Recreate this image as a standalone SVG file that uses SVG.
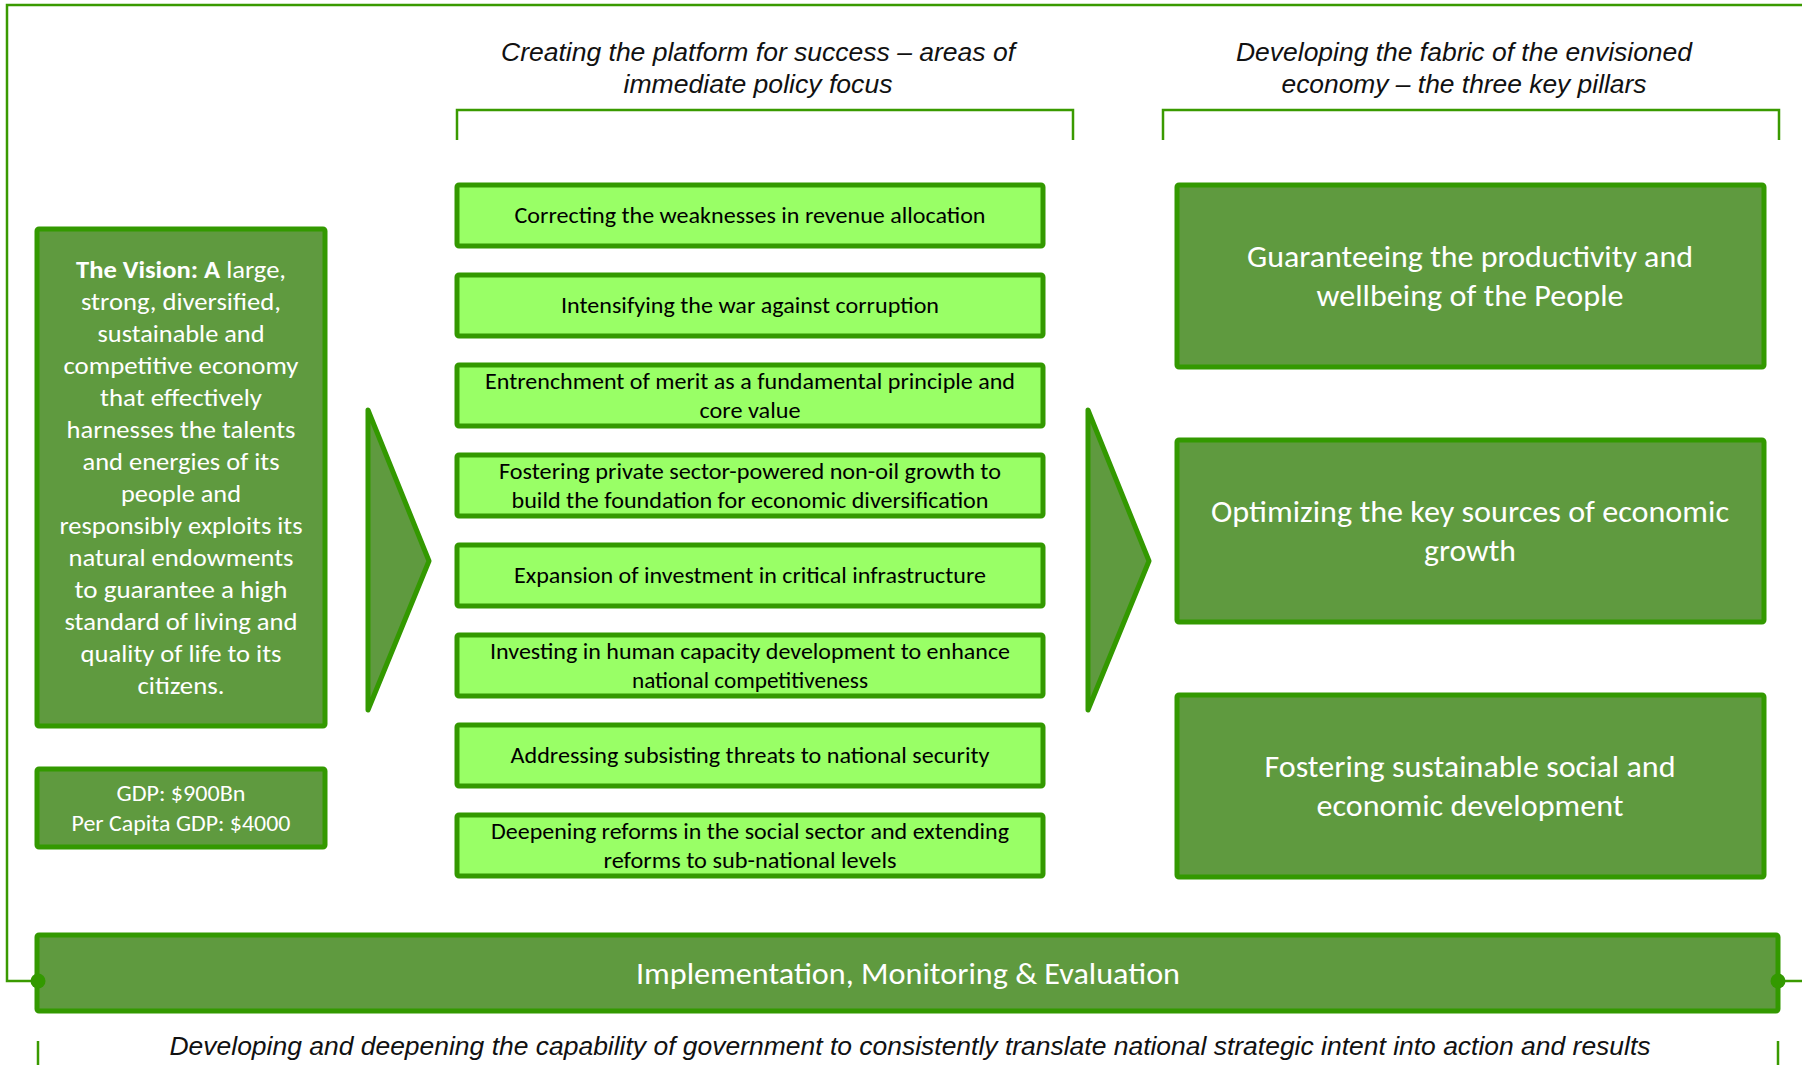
<svg xmlns="http://www.w3.org/2000/svg" width="1802" height="1065" viewBox="0 0 1802 1065">
<style>
.frame{fill:none;stroke:#3A9A00;stroke-width:2.5}
.dot{fill:#339900}
.dark{fill:#5F9A3F;stroke:#339900;stroke-width:5;stroke-linejoin:round}
.light{fill:#99FF66;stroke:#339900;stroke-width:5}
.hdr{font-family:"Liberation Sans",Arial,sans-serif;font-style:italic;font-size:26px;fill:#111;text-anchor:middle}
.cal{font-family:Carlito,Lato,"Open Sans",sans-serif;text-anchor:middle}
.mid{font-size:23px;fill:#000}
.wht{fill:#fff}
.vis{font-size:25px}
.big{font-size:31px}
.gdp{font-size:22px}
.bold{font-weight:bold}
</style>
<rect width="1802" height="1065" fill="#fff"/>

<g id="header-left">
<text class="hdr" x="758" y="61" textLength="514" lengthAdjust="spacingAndGlyphs">Creating the platform for success – areas of</text>
<text class="hdr" x="758" y="93" textLength="269" lengthAdjust="spacingAndGlyphs">immediate policy focus</text>
</g>
<g id="header-right">
<text class="hdr" x="1464" y="61" textLength="456" lengthAdjust="spacingAndGlyphs">Developing the fabric of the envisioned</text>
<text class="hdr" x="1464" y="93" textLength="365" lengthAdjust="spacingAndGlyphs">economy – the three key pillars</text>
</g>

<g id="vision">
<rect class="dark" x="37" y="229" width="288" height="497" rx="2"/>
<g class="cal wht vis">
<text x="181" y="278" textLength="210" lengthAdjust="spacingAndGlyphs"><tspan class="bold">The Vision: A</tspan> large,</text>
<text x="181" y="310" textLength="200" lengthAdjust="spacingAndGlyphs">strong, diversified,</text>
<text x="181" y="342" textLength="167" lengthAdjust="spacingAndGlyphs">sustainable and</text>
<text x="181" y="374" textLength="235" lengthAdjust="spacingAndGlyphs">competitive economy</text>
<text x="181" y="406" textLength="162" lengthAdjust="spacingAndGlyphs">that effectively</text>
<text x="181" y="438" textLength="229" lengthAdjust="spacingAndGlyphs">harnesses the talents</text>
<text x="181" y="470" textLength="197" lengthAdjust="spacingAndGlyphs">and energies of its</text>
<text x="181" y="502" textLength="120" lengthAdjust="spacingAndGlyphs">people and</text>
<text x="181" y="534" textLength="243" lengthAdjust="spacingAndGlyphs">responsibly exploits its</text>
<text x="181" y="566" textLength="225" lengthAdjust="spacingAndGlyphs">natural endowments</text>
<text x="181" y="598" textLength="213" lengthAdjust="spacingAndGlyphs">to guarantee a high</text>
<text x="181" y="630" textLength="233" lengthAdjust="spacingAndGlyphs">standard of living and</text>
<text x="181" y="662" textLength="201" lengthAdjust="spacingAndGlyphs">quality of life to its</text>
<text x="181" y="694" textLength="87" lengthAdjust="spacingAndGlyphs">citizens.</text>
</g>
</g>

<g id="gdp">
<rect class="dark" x="37" y="769" width="288" height="78" rx="2"/>
<g class="cal wht gdp">
<text x="181" y="801" textLength="129" lengthAdjust="spacingAndGlyphs">GDP: $900Bn</text>
<text x="181" y="831" textLength="219" lengthAdjust="spacingAndGlyphs">Per Capita GDP: $4000</text>
</g>
</g>

<g id="arrow-left"><path class="dark" d="M368 410 L429 561 L368 710 Z"/></g>
<g id="arrow-right"><path class="dark" d="M1088 410 L1149 561 L1088 710 Z"/></g>

<g id="focus-1"><rect class="light" x="457" y="185" width="586" height="61" rx="2"/>
<text class="cal mid" x="750" y="223" textLength="471" lengthAdjust="spacingAndGlyphs">Correcting the weaknesses in revenue allocation</text></g>
<g id="focus-2"><rect class="light" x="457" y="275" width="586" height="61" rx="2"/>
<text class="cal mid" x="750" y="313" textLength="378" lengthAdjust="spacingAndGlyphs">Intensifying the war against corruption</text></g>
<g id="focus-3"><rect class="light" x="457" y="365" width="586" height="61" rx="2"/>
<text class="cal mid" x="750" y="389" textLength="530" lengthAdjust="spacingAndGlyphs">Entrenchment of merit as a fundamental principle and</text>
<text class="cal mid" x="750" y="418" textLength="101" lengthAdjust="spacingAndGlyphs">core value</text></g>
<g id="focus-4"><rect class="light" x="457" y="455" width="586" height="61" rx="2"/>
<text class="cal mid" x="750" y="479" textLength="502" lengthAdjust="spacingAndGlyphs">Fostering private sector-powered non-oil growth to</text>
<text class="cal mid" x="750" y="508" textLength="477" lengthAdjust="spacingAndGlyphs">build the foundation for economic diversification</text></g>
<g id="focus-5"><rect class="light" x="457" y="545" width="586" height="61" rx="2"/>
<text class="cal mid" x="750" y="583" textLength="472" lengthAdjust="spacingAndGlyphs">Expansion of investment in critical infrastructure</text></g>
<g id="focus-6"><rect class="light" x="457" y="635" width="586" height="61" rx="2"/>
<text class="cal mid" x="750" y="659" textLength="520" lengthAdjust="spacingAndGlyphs">Investing in human capacity development to enhance</text>
<text class="cal mid" x="750" y="688" textLength="236" lengthAdjust="spacingAndGlyphs">national competitiveness</text></g>
<g id="focus-7"><rect class="light" x="457" y="725" width="586" height="61" rx="2"/>
<text class="cal mid" x="750" y="763" textLength="479" lengthAdjust="spacingAndGlyphs">Addressing subsisting threats to national security</text></g>
<g id="focus-8"><rect class="light" x="457" y="815" width="586" height="61" rx="2"/>
<text class="cal mid" x="750" y="839" textLength="518" lengthAdjust="spacingAndGlyphs">Deepening reforms in the social sector and extending</text>
<text class="cal mid" x="750" y="868" textLength="293" lengthAdjust="spacingAndGlyphs">reforms to sub-national levels</text></g>

<g id="pillar-1"><rect class="dark" x="1177" y="185" width="587" height="182" rx="2"/>
<text class="cal wht big" x="1470" y="267" textLength="446" lengthAdjust="spacingAndGlyphs">Guaranteeing the productivity and</text>
<text class="cal wht big" x="1470" y="306" textLength="307" lengthAdjust="spacingAndGlyphs">wellbeing of the People</text></g>
<g id="pillar-2"><rect class="dark" x="1177" y="440" width="587" height="182" rx="2"/>
<text class="cal wht big" x="1470" y="522" textLength="518" lengthAdjust="spacingAndGlyphs">Optimizing the key sources of economic</text>
<text class="cal wht big" x="1470" y="561" textLength="92" lengthAdjust="spacingAndGlyphs">growth</text></g>
<g id="pillar-3"><rect class="dark" x="1177" y="695" width="587" height="182" rx="2"/>
<text class="cal wht big" x="1470" y="777" textLength="411" lengthAdjust="spacingAndGlyphs">Fostering sustainable social and</text>
<text class="cal wht big" x="1470" y="816" textLength="307" lengthAdjust="spacingAndGlyphs">economic development</text></g>

<g id="implementation"><rect class="dark" x="37" y="935" width="1741" height="76" rx="2"/>
<text class="cal wht big" x="908" y="984" textLength="544" lengthAdjust="spacingAndGlyphs">Implementation, Monitoring &amp; Evaluation</text></g>

<g id="footer">
<text class="hdr" x="910" y="1055" font-size="25" textLength="1481" lengthAdjust="spacingAndGlyphs">Developing and deepening the capability of government to consistently translate national strategic intent into action and results</text>
</g>

<g id="connectors">
<path class="frame" d="M1802 5 H7 V981 H37"/>
<path class="frame" d="M1802 981 H1778"/>
<circle class="dot" cx="38" cy="981" r="7.5"/>
<circle class="dot" cx="1778" cy="981" r="7.5"/>
<path class="frame" d="M38 1041 V1065"/>
<path class="frame" d="M1778 1041 V1065"/>
<path class="frame" d="M457 140 V110 H1073 V140"/>
<path class="frame" d="M1163 140 V110 H1779 V140"/>
</g>
</svg>
